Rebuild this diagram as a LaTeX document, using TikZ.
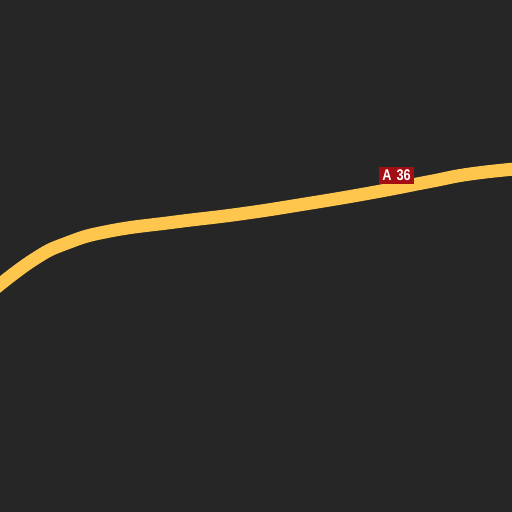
\documentclass[tikz,border=0pt]{standalone}
\usepackage{fontspec}
\setmainfont{Liberation Sans}
\definecolor{bgdark}{HTML}{262626}
\definecolor{roadyellow}{HTML}{FFC64D}
\definecolor{shieldred}{HTML}{A30D14}
\tikzset{
  road/.style={draw=roadyellow,line width=13pt,line cap=butt,line join=round},
  shield/.style={fill=shieldred,minimum width=35pt,minimum height=17pt,inner sep=0pt},
  shieldtext/.style={text=white,font=\bfseries\fontsize{15.5}{16}\selectfont,inner sep=0pt}
}
\begin{document}
\begin{tikzpicture}[x=1pt,y=-1pt]
\useasboundingbox (0,0) rectangle (512,512);
\fill[bgdark] (0,0) rectangle (512,512);
\draw[road] plot[smooth,tension=0.8] coordinates {(-8,291) (33,260) (67,243) (110,231) (175,222) (240,214) (305,204) (370,193) (430,181.5) (470,174) (520,168.5)};
\node[shield] (a36) at (396.5,175.5) {};
\node[shieldtext] (a36t) at (a36.center) {\scalebox{0.82}[1]{A\hspace{2pt} 36}};
\end{tikzpicture}
\end{document}
